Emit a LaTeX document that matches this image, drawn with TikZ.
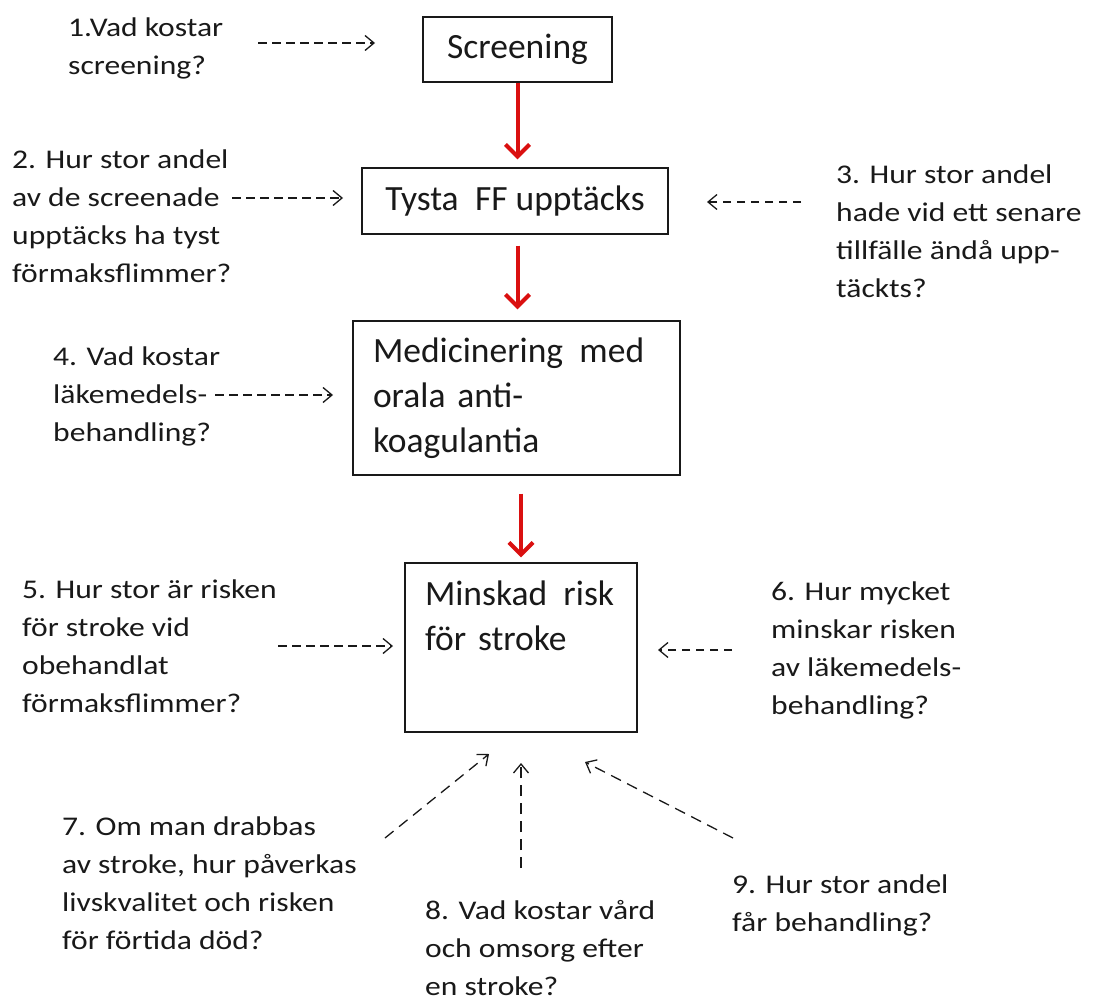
\documentclass[tikz,border=0pt]{standalone}
\usepackage{fontspec}
\setmainfont{Carlito}
\newfontfamily\qfont{Carlito}[FakeStretch=1.17]
\usetikzlibrary{arrows.meta}
\definecolor{redarrow}{RGB}{218,16,16}
\definecolor{ink}{RGB}{25,25,25}
\begin{document}
\begin{tikzpicture}[x=1pt,y=-1pt,
  box/.style={draw=ink, line width=1.4pt, inner sep=0pt, text=ink,
    font=\fontsize{35.5}{45}\selectfont},
  question/.style={anchor=base west, align=left, inner sep=0pt, text=ink,
    font=\qfont\fontsize{27}{38}\selectfont},
  flow/.style={draw=redarrow, line width=4pt,
    -{Straight Barb[length=12pt,width=24pt]}},
  ask/.style={draw=ink, line width=1.3pt, dash pattern=on 8.5pt off 5.5pt,
    -{Straight Barb[length=9pt,width=15pt]}},
  asklong/.style={ask, dash pattern=on 11pt off 7pt}]
\useasboundingbox (0,0) rectangle (1094,1003);

% boxes
\node[box, minimum width=189pt, minimum height=65pt] (screen) at (517.5,49.5) {Screening};
\node[box, minimum width=306pt, minimum height=66pt] (tysta) at (515,201) {Tysta\hspace{0.46em}FF upptäcks};
\node[box, minimum width=327pt, minimum height=154pt, text width=287pt, align=left] (medic) at (516.5,398)
  {\mbox{Medicinering\hspace{0.46em}med}\\orala anti-\\koagulantia};
\node[box, minimum width=232pt, minimum height=169pt, text width=192pt, align=left] (minsk) at (521,647.5)
  {\mbox{Minskad\hspace{0.46em}risk}\\för stroke\\\rule[-18pt]{0pt}{18pt}};

% red flow arrows
\draw[flow, shorten >=8pt] (screen.south) -- (screen.south |- tysta.north);
\draw[flow, shorten <=11pt, shorten >=11pt] (tysta.south -| screen.south) -- (medic.north -| screen.south);
\draw[flow, shorten <=18pt, shorten >=5pt] (medic.south -| minsk.north) -- (minsk.north);

% questions (anchored at the baseline of their last line)
\node[question] (q1) at (68,75) {1.Vad kostar\\screening?};
\node[question] (q2) at (12,282) {2. Hur stor andel\\av de screenade\\upptäcks ha tyst\\förmaksflimmer?};
\node[question] (q3) at (836,297) {3. Hur stor andel\\hade vid ett senare\\tillfälle ändå upp-\\täckts?};
\node[question] (q4) at (53,441) {4. Vad kostar\\läkemedels-\\behandling?};
\node[question] (q5) at (22,712) {5. Hur stor är risken\\för stroke vid\\obehandlat\\förmaksflimmer?};
\node[question] (q6) at (771,714) {6. Hur mycket\\minskar risken\\av läkemedels-\\behandling?};
\node[question] (q7) at (62,949) {7. Om man drabbas\\av stroke, hur påverkas\\livskvalitet och risken\\för förtida död?};
\node[question] (q8) at (425,995) {8. Vad kostar vård\\och omsorg efter\\en stroke?};
\node[question] (q9) at (732,931) {9. Hur stor andel\\får behandling?};

% dashed question arrows
\coordinate (a1s) at (258,43);  \coordinate (a1e) at (375,43);
\coordinate (a2s) at (232,198); \coordinate (a2e) at (343,198);
\coordinate (a3s) at (801,202); \coordinate (a3e) at (707,202);
\coordinate (a4s) at (215,395); \coordinate (a4e) at (333,395);
\coordinate (a5s) at (278,646); \coordinate (a5e) at (393,646);
\coordinate (a6s) at (732,650); \coordinate (a6e) at (658,650);
\coordinate (a7s) at (385,838); \coordinate (a7e) at (489,754);
\coordinate (a8s) at (521,868); \coordinate (a8e) at (521,763);
\coordinate (a9s) at (733,838); \coordinate (a9e) at (585,762);
\foreach \i in {1,...,6} {\draw[ask] (a\i s) -- (a\i e);}
\foreach \i in {7,8,9} {\draw[asklong] (a\i s) -- (a\i e);}
\end{tikzpicture}
\end{document}
